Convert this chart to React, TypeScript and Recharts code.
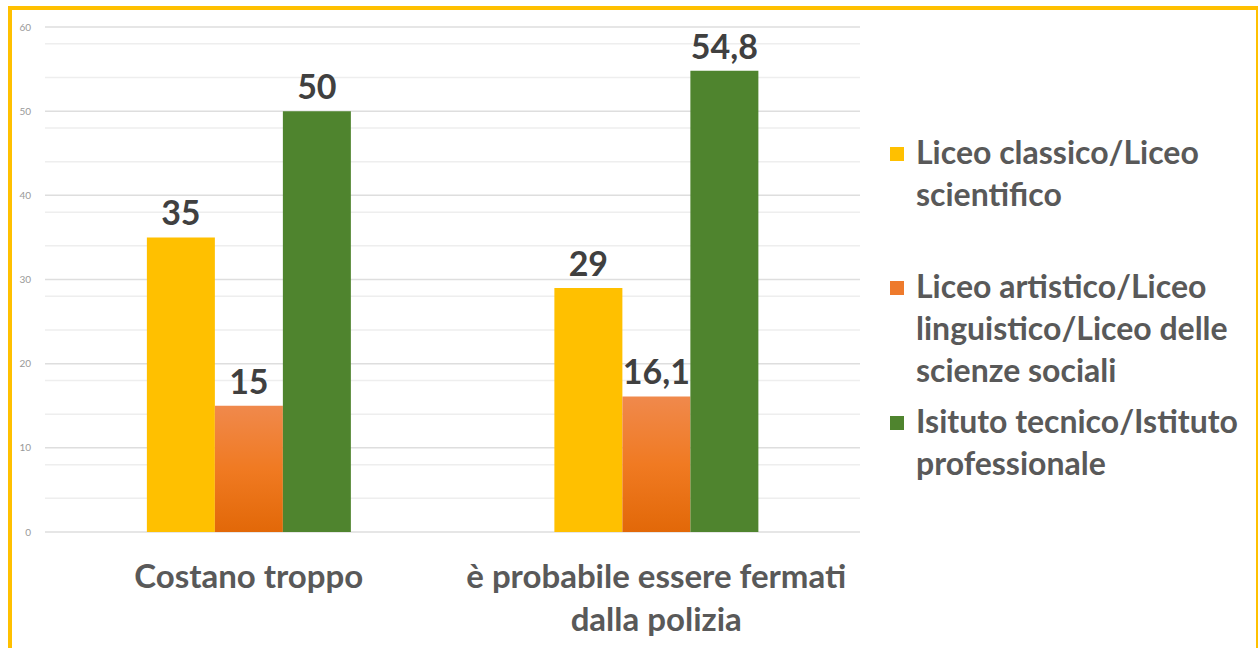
import { BarChart, Bar, XAxis, YAxis, CartesianGrid, LabelList } from 'recharts'

const categories = ['Costano troppo', 'è probabile essere fermati dalla polizia']
const liceoClassico = [35, 29]
const liceoArtistico = [15, 16.1]
const istitutoTecnico = [50, 54.8]
const seriesNames = [
  'Liceo classico/Liceo scientifico',
  'Liceo artistico/Liceo linguistico/Liceo delle scienze sociali',
  'Isituto tecnico/Istituto professionale',
]
const yTicks = [0, 10, 20, 30, 40, 50, 60]
const minorLines = [2, 4, 6, 8, 12, 14, 16, 18, 22, 24, 26, 28, 32, 34, 36, 38, 42, 44, 46, 48, 52, 54, 56, 58]

const YELLOW = '#FFC000'
const ORANGE = '#EE7A2C'
const GREEN = '#4F842E'
const FONT = 'Lato, "Open Sans", sans-serif'

const data = categories.map((name, i) => ({
  name,
  a: liceoClassico[i],
  b: liceoArtistico[i],
  c: istitutoTecnico[i],
}))

const legendColors = [YELLOW, ORANGE, GREEN]
const legendLines = [
  ['Liceo classico/Liceo', 'scientifico'],
  ['Liceo artistico/Liceo', 'linguistico/Liceo delle', 'scienze sociali'],
  ['Isituto tecnico/Istituto', 'professionale'],
]
const legendGaps = [0, 50, 9]

const fmt = (v: any) => String(v).replace('.', ',')

// wrap a category name into lines of at most maxChars
function wrap(text: string, maxChars: number) {
  const lines: string[] = []
  let cur = ''
  text.split(' ').forEach(w => {
    const next = cur ? cur + ' ' + w : w
    if (next.length > maxChars && cur) {
      lines.push(cur)
      cur = w
    } else {
      cur = next
    }
  })
  if (cur) lines.push(cur)
  return lines
}

function CategoryTick({ x, y, payload }: any) {
  const lines = wrap(payload.value, 27)
  return (
    <text x={x} y={y + 48} textAnchor="middle" fill="#595959" fontSize={33} fontWeight={700} fontFamily={FONT}>
      {lines.map((l, i) => (
        <tspan key={i} x={x} dy={i === 0 ? 0 : 43}>{l}</tspan>
      ))}
    </text>
  )
}

function LegendBox() {
  return (
    <div style={{ position: 'absolute', left: 890, top: 131, fontFamily: FONT, fontWeight: 700, fontSize: 32, color: '#595959', lineHeight: '42px' }}>
      {seriesNames.map((name, i) => (
        <div key={name} title={name} style={{ display: 'flex', alignItems: 'flex-start', marginTop: legendGaps[i] }}>
          <span style={{ width: 14, height: 14, background: legendColors[i], marginTop: 16, marginRight: 12, flexShrink: 0 }} />
          <div style={{ whiteSpace: 'nowrap' }}>
            {legendLines[i].map(l => <div key={l}>{l}</div>)}
          </div>
        </div>
      ))}
    </div>
  )
}

export default function App() {
  return (
    <div style={{ position: 'absolute', left: 0, top: 0, width: 1258, height: 648, background: '#fff', overflow: 'hidden' }}>
      <div style={{ position: 'absolute', left: 8, top: 6, width: 1252, height: 700, border: `4px solid ${YELLOW}`, boxSizing: 'border-box' }} />
      <div style={{ position: 'absolute', left: 0, top: 0 }}>
        <BarChart
          width={880}
          height={648}
          data={data}
          margin={{ top: 27, right: 20, bottom: 86, left: 0 }}
          barCategoryGap="25%"
          barGap={0}
        >
          <defs>
            <linearGradient id="orangeGrad" x1="0" y1="0" x2="0" y2="1">
              <stop offset="0%" stopColor="#F0894C" />
              <stop offset="50%" stopColor="#F07A22" />
              <stop offset="100%" stopColor="#E26808" />
            </linearGradient>
          </defs>
          <CartesianGrid vertical={false} horizontalValues={minorLines} stroke="#eeeeee" strokeWidth={1.5} />
          <CartesianGrid vertical={false} horizontalValues={yTicks} stroke="#dedede" strokeWidth={1.5} />
          <XAxis dataKey="name" axisLine={false} tickLine={false} tick={<CategoryTick />} interval={0} />
          <YAxis
            width={45}
            domain={[0, 60]}
            ticks={yTicks}
            axisLine={false}
            tickLine={false}
            tick={{ fill: '#999999', fontSize: 10, fontFamily: FONT }}
            tickMargin={8}
          />
          <Bar dataKey="a" name={seriesNames[0]} fill={YELLOW} isAnimationActive={false}>
            <LabelList dataKey="a" position="top" offset={12} formatter={fmt} fill="#404040" fontSize={34} fontWeight={700} fontFamily={FONT} />
          </Bar>
          <Bar dataKey="b" name={seriesNames[1]} fill="url(#orangeGrad)" isAnimationActive={false}>
            <LabelList dataKey="b" position="top" offset={12} formatter={fmt} fill="#404040" fontSize={34} fontWeight={700} fontFamily={FONT} />
          </Bar>
          <Bar dataKey="c" name={seriesNames[2]} fill={GREEN} isAnimationActive={false}>
            <LabelList dataKey="c" position="top" offset={12} formatter={fmt} fill="#404040" fontSize={34} fontWeight={700} fontFamily={FONT} />
          </Bar>
        </BarChart>
      </div>
      <LegendBox />
    </div>
  )
}
